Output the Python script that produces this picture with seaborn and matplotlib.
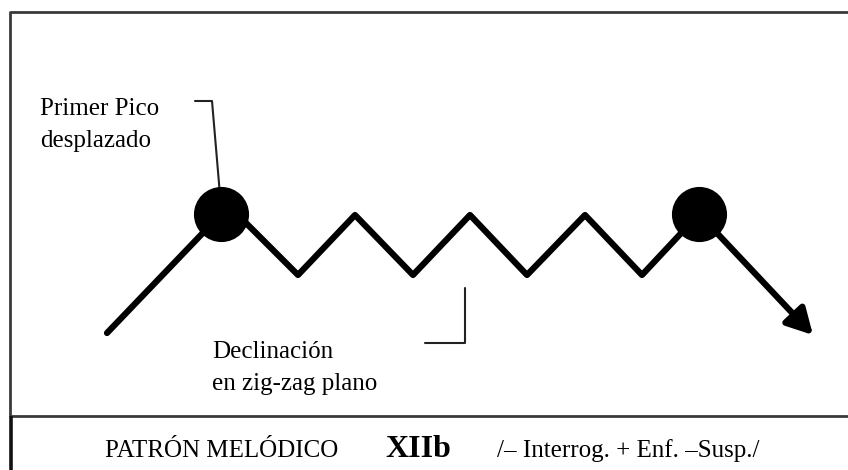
import matplotlib.pyplot as plt
import seaborn as sns
import pandas as pd

# melodic contour (x position, height) -- screen-like units, y grows downward
contour_x = [107, 221, 237, 298, 355, 413, 470, 527, 585, 642, 699, 813]
contour_y = [333, 214, 214, 275, 215, 275, 215, 275, 215, 275, 214, 335]
peak_x = [221, 699]
peak_y = [214, 214]

label_peak = ["Primer Pico", "desplazado"]
label_decl = ["Declinación", "en zig-zag plano"]
caption_left = "PATRÓN MELÓDICO"
caption_mid = "XIIb"
caption_right = "/– Interrog. + Enf. –Susp./"

sns.set_theme(style="white")
plt.rcParams["font.family"] = ["Liberation Serif", "DejaVu Serif"]

fig = plt.figure(figsize=(8.48, 4.70), dpi=100)
ax = fig.add_axes([0, 0, 1, 1])
ax.set_xlim(0, 848)
ax.set_ylim(470, 0)
ax.axis("off")

df = pd.DataFrame({"x": contour_x[:-1], "y": contour_y[:-1]})
sns.lineplot(data=df, x="x", y="y", sort=False, color="black",
             linewidth=4.5, ax=ax, legend=False)
ax.annotate("", xy=(contour_x[-1], contour_y[-1]),
            xytext=(contour_x[-2], contour_y[-2]),
            arrowprops=dict(arrowstyle="-|>,head_length=1.1,head_width=0.6",
                            color="black", lw=4.5, shrinkA=0, shrinkB=0,
                            mutation_scale=14))

peaks = pd.DataFrame({"x": peak_x, "y": peak_y})
sns.scatterplot(data=peaks, x="x", y="y", s=1350, color="black",
                edgecolor="black", ax=ax, legend=False, zorder=5)

# frame
frame_kw = dict(color="#3a3a3a", lw=2.0, solid_capstyle="butt")
ax.plot([10, 848], [12, 12], **frame_kw)
ax.plot([10, 10], [11, 416], **frame_kw)
ax.plot([10, 848], [416, 416], **frame_kw)
ax.plot([11, 11], [416, 470], color="#111111", lw=2.6, solid_capstyle="butt")

# leader lines
lead_kw = dict(color="#222222", lw=1.5)
ax.plot([195, 212, 220], [101, 101, 195], **lead_kw)
ax.plot([465, 465, 425], [288, 343, 343], **lead_kw)

txt_kw = dict(fontsize=18, color="black", va="baseline", ha="left")
ax.text(40, 115, label_peak[0], **txt_kw)
ax.text(40, 147, label_peak[1], **txt_kw)
ax.text(212, 358, label_decl[0], **txt_kw)
ax.text(212, 390, label_decl[1], **txt_kw)

ax.text(105, 457, caption_left, **txt_kw)
ax.text(385, 457, caption_mid, fontsize=23, fontweight="bold",
        va="baseline", ha="left", color="black")
ax.text(497, 457, caption_right, **txt_kw)

fig.savefig("out.png", dpi=100)
